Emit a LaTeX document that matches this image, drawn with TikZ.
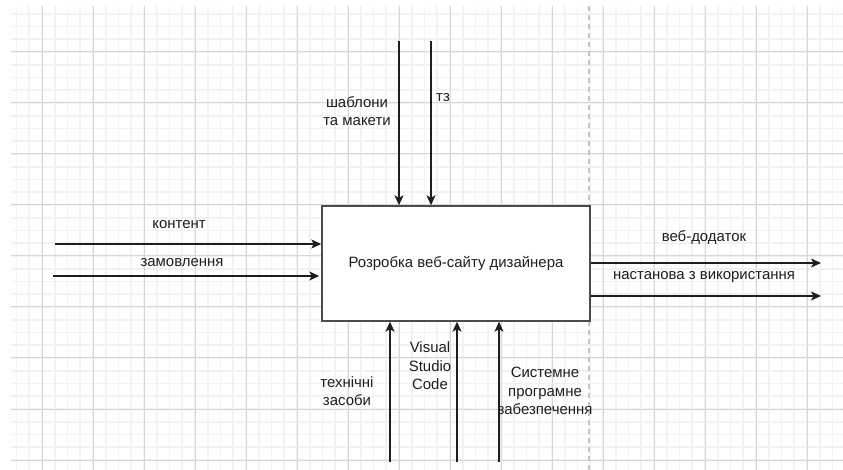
\documentclass[tikz,border=0pt]{standalone}
\usepackage{fontspec}
\setmainfont{Liberation Sans}
\usetikzlibrary{arrows.meta}
\definecolor{gridminor}{HTML}{F2F2F2}
\definecolor{gridmajor}{HTML}{D6D6D6}
\definecolor{pagebreak}{HTML}{C4C4C4}
\definecolor{ink}{HTML}{1E1E1E}
\tikzset{
  every node/.style={font=\fontsize{15}{18.5}\selectfont, text=ink},
  lbl/.style={align=center, inner sep=0pt},
  func/.style={draw=ink!80, line width=1.4bp, fill=white, minimum width=268bp,
    minimum height=115bp, inner sep=0pt},
  flow/.style={draw=ink, line width=1.2bp, -{Stealth[length=10bp,width=9bp,inset=2.5bp]}},
}
\begin{document}
\begin{tikzpicture}[x=1bp,y=-1bp]
\useasboundingbox (0,0) rectangle (843,470);
\fill[white] (0,0) rectangle (843,470);
% background grid
\begin{scope}
  \clip (11,6) rectangle (843,470);
  \foreach \i in {0,...,65} \draw[gridminor, line width=1.6bp] ({16.5+12.75*\i},6) -- ({16.5+12.75*\i},470);
  \foreach \j in {0,...,36} \draw[gridminor, line width=1.6bp] (11,{13.75+12.75*\j}) -- (843,{13.75+12.75*\j});
  \foreach \i in {0,...,15} \draw[gridmajor, line width=1bp] ({42+51*\i},6) -- ({42+51*\i},470);
  \foreach \j in {0,...,8} \draw[gridmajor, line width=1bp] (11,{52+51*\j}) -- (843,{52+51*\j});
\end{scope}
% page break
\draw[pagebreak, line width=1.4bp, dash pattern=on 5bp off 4bp] (589,6) -- (589,470);

% function block
\node[func] (main) at (456,263.5) {Розробка веб-сайту дизайнера};

% free ends of the connectors
\coordinate (c1) at (399,41);
\coordinate (c2) at (431,41);
\coordinate (i1) at (55,244);
\coordinate (i2) at (53,276);
\coordinate (o1) at (821,263);
\coordinate (o2) at (821,296);
\coordinate (m1) at (390,462);
\coordinate (m2) at (457,462);
\coordinate (m3) at (499,462);

% controls
\draw[flow] (c1) -- (c1 |- main.north);
\draw[flow] (c2) -- (c2 |- main.north);
% inputs
\draw[flow] (i1) -- (i1 -| main.west);
\draw[flow] (i2) -- ([xshift=-2bp]i2 -| main.west);
% outputs
\draw[flow] (o1 -| main.east) -- (o1);
\draw[flow] (o2 -| main.east) -- (o2);
% mechanisms
\draw[flow] (m1) -- (m1 |- main.south);
\draw[flow] (m2) -- (m2 |- main.south);
\draw[flow] (m3) -- (m3 |- main.south);

% labels
\node[lbl] (lc1) at (357,111) {шаблони\\та макети};
\node[lbl] (lc2) at (443,98) {тз};
\node[lbl] (li1) at (179,225) {контент};
\node[lbl] (li2) at (182,263) {замовлення};
\node[lbl] (lo1) at (704,238) {веб-додаток};
\node[lbl] (lo2) at (704,277) {настанова з використання};
\node[lbl] (lm1) at (347,391) {технічні\\засоби};
\node[lbl] (lm2) at (430,366) {Visual\\Studio\\Code};
\node[lbl] (lm3) at (545,391) {Системне\\програмне\\забезпечення};
\end{tikzpicture}
\end{document}
